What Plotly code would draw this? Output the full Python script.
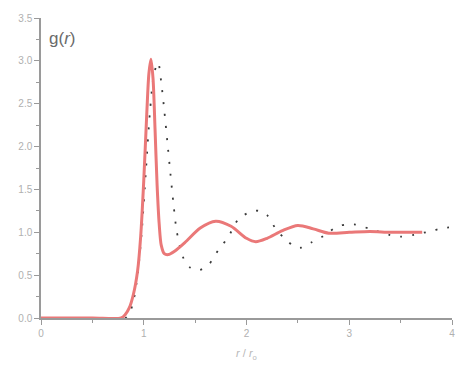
import plotly.graph_objects as go

# Radial distribution function g(r) for two models
r_solid = [0.0, 0.5, 0.78, 0.82, 0.86, 0.90, 0.94, 0.97, 1.00, 1.03, 1.05, 1.07,
           1.09, 1.11, 1.13, 1.15, 1.17, 1.20, 1.24, 1.30, 1.40, 1.55, 1.70, 1.85,
           2.00, 2.09, 2.20, 2.35, 2.50, 2.65, 2.80, 3.00, 3.20, 3.40, 3.60, 3.71]
g_solid = [0.0, 0.0, 0.0, 0.04, 0.12, 0.28, 0.55, 0.95, 1.60, 2.40, 2.85, 3.02,
           2.80, 2.20, 1.55, 1.10, 0.85, 0.75, 0.74, 0.78, 0.88, 1.05, 1.13, 1.07,
           0.93, 0.89, 0.93, 1.02, 1.08, 1.04, 0.99, 1.00, 1.01, 1.00, 1.00, 1.00]

r_dotted = [0.0, 0.5, 0.82, 0.86, 0.90, 0.94, 0.98, 1.02, 1.06, 1.10, 1.14, 1.17,
            1.20, 1.23, 1.26, 1.29, 1.32, 1.36, 1.40, 1.45, 1.54, 1.63, 1.73, 1.82,
            1.92, 2.04, 2.12, 2.20, 2.29, 2.37, 2.47, 2.53, 2.63, 2.74, 2.81, 2.89,
            2.97, 3.06, 3.20, 3.39, 3.50, 3.63, 3.78, 3.92, 4.00]
g_dotted = [0.0, 0.0, 0.0, 0.05, 0.2, 0.5, 1.0, 1.7, 2.4, 2.85, 2.98, 2.75,
            2.42, 2.05, 1.68, 1.32, 1.02, 0.80, 0.66, 0.59, 0.56, 0.62, 0.80, 0.94,
            1.15, 1.24, 1.25, 1.20, 1.03, 0.93, 0.83, 0.82, 0.88, 0.95, 1.01, 1.07,
            1.09, 1.09, 1.04, 0.97, 0.95, 0.97, 1.01, 1.05, 1.06]

x_ticks = [0, 1, 2, 3, 4]
y_ticks = [0.0, 0.5, 1.0, 1.5, 2.0, 2.5, 3.0, 3.5]
y_tick_text = [f"{v:.1f}" for v in y_ticks]

fig = go.Figure()
fig.add_trace(go.Scatter(
    x=r_dotted, y=g_dotted, mode="lines",
    line=dict(color="#3a3a3a", width=1.8, dash="2px,10px", shape="spline", smoothing=0.8),
    hoverinfo="skip", showlegend=False))
fig.add_trace(go.Scatter(
    x=r_solid, y=g_solid, mode="lines",
    line=dict(color="#ea7878", width=3, shape="spline", smoothing=0.8),
    hoverinfo="skip", showlegend=False))

axis_common = dict(
    showgrid=False, zeroline=False, showline=True, linecolor="#9a9a9a", linewidth=1.5,
    ticks="outside", ticklen=5, tickwidth=1.2, tickcolor="#9a9a9a",
    tickfont=dict(family="Liberation Sans, Arial, sans-serif", size=10, color="#b0b0b0"),
)

fig.update_layout(
    width=462, height=367,
    margin=dict(l=41, r=7, t=18, b=49),
    paper_bgcolor="white", plot_bgcolor="white",
    xaxis=dict(range=[0, 4], tickvals=x_ticks, ticktext=[str(v) for v in x_ticks],
               minor=dict(ticks="outside", ticklen=3, dtick=0.5, tickcolor="#9a9a9a"),
               title=dict(text="<i>r</i> / <i>r</i><sub>o</sub>", standoff=12,
                          font=dict(family="Liberation Sans, Arial, sans-serif", size=11, color="#b8b8b8")),
               **axis_common),
    yaxis=dict(range=[0, 3.5], tickvals=y_ticks, ticktext=y_tick_text,
               minor=dict(ticks="outside", ticklen=3, dtick=0.25, tickcolor="#9a9a9a"),
               **axis_common),
    annotations=[dict(
        text="g(<i>r</i>)", xref="paper", yref="paper", x=0.015, y=0.933,
        xanchor="left", yanchor="middle", showarrow=False,
        font=dict(family="Liberation Sans, Arial, sans-serif", size=17, color="#6a6a6a"))],
)

fig.write_html("out.html")
